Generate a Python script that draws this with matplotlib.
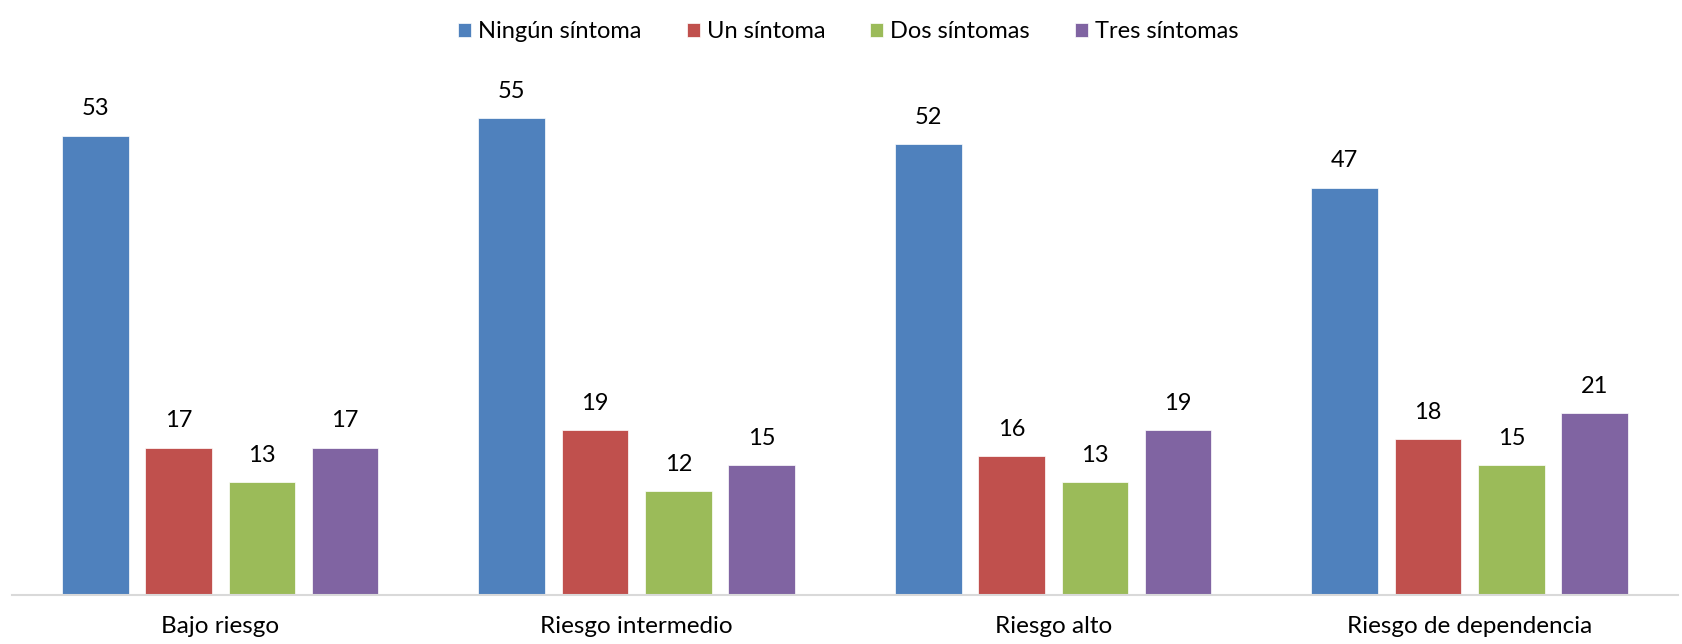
import numpy as np
import matplotlib.pyplot as plt

categories = ["Bajo riesgo", "Riesgo intermedio", "Riesgo alto", "Riesgo de dependencia"]
series = ["Ningún síntoma", "Un síntoma", "Dos síntomas", "Tres síntomas"]
ninguno = [53, 55, 52, 47]
uno = [17, 19, 16, 18]
dos = [13, 12, 13, 15]
tres = [17, 15, 19, 21]
colors = ["#4F81BD", "#C0504D", "#9BBB59", "#8064A2"]

plt.rcParams['font.family'] = ['Lato', 'DejaVu Sans']

fig = plt.figure(figsize=(16.83, 6.44), dpi=100)
ax = fig.add_axes([0.0071, 0.076, 0.9899, 0.8075])

x = np.arange(len(categories))
width = 0.16
step = 0.2
for i, (name, vals) in enumerate(zip(series, [ninguno, uno, dos, tres])):
    pos = x + (i - 1.5) * step
    bars = ax.bar(pos, vals, width, color=colors[i], label=name,
                  edgecolor="white", linewidth=0.5)
    for b, v in zip(bars, vals):
        ax.text(b.get_x() + b.get_width() / 2, v + 1.9, str(v),
                ha="center", va="bottom", fontsize=17)

ax.set_xlim(-0.5, 3.5)
ax.set_ylim(0, 60)
ax.set_yticks([])
ax.set_xticks(x)
ax.set_xticklabels(categories, fontsize=17.5)
ax.tick_params(axis="x", length=0, pad=15)
for s in ["top", "right", "left"]:
    ax.spines[s].set_visible(False)
ax.spines["bottom"].set_color("#D9D9D9")
ax.spines["bottom"].set_linewidth(1.5)

leg = fig.legend(loc="upper center", bbox_to_anchor=(0.504, 1.0), ncol=4,
                 frameon=False, fontsize=17, handlelength=0.55, handleheight=0.55,
                 handletextpad=0.3, columnspacing=1.9)

fig.savefig("out.png", dpi=100)
